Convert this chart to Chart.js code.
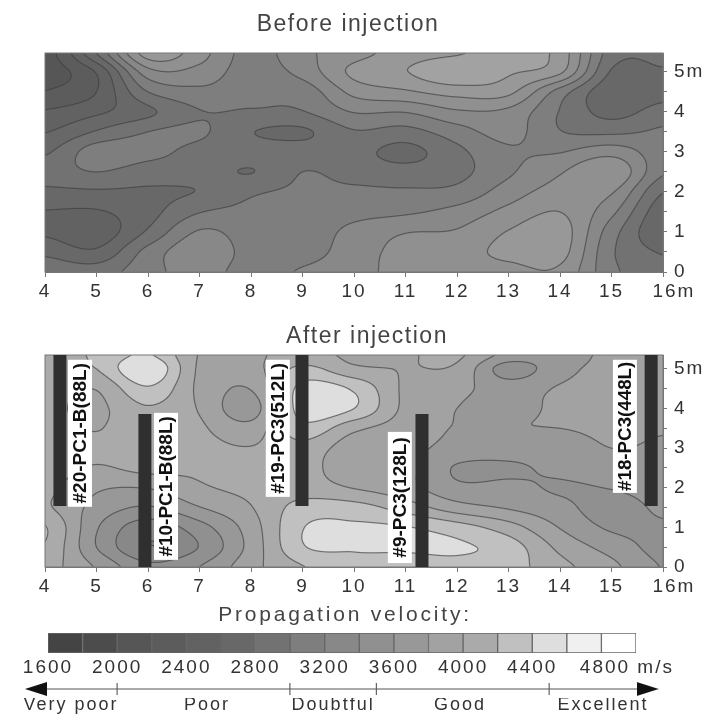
<!DOCTYPE html>
<html>
<head>
<meta charset="utf-8">
<title>Propagation velocity</title>
<script src="https://cdn.jsdelivr.net/npm/chart.js@4"></script>
<style>
    html, body { margin: 0; padding: 0; background: #fff; }
    #page { position: relative; width: 710px; height: 714px; overflow: hidden; filter: blur(0.75px); }
    #page canvas { position: absolute; left: 0; }
    .heading { position: absolute; transform: translate(-50%, -50%); white-space: nowrap; color: #444;
        font-family: "Liberation Sans", sans-serif; }
</style>
</head>
<body>
<div id="page">
    <div class="heading" style="left:348px; top:23px; font-size:23px; letter-spacing:1.5px">Before injection</div>
    <div class="heading" style="left:367px; top:335px; font-size:23px; letter-spacing:1.5px">After injection</div>
    <div class="heading" style="left:345px; top:614px; font-size:21px; letter-spacing:2.8px">Propagation velocity:</div>
    <canvas id="beforeChart" width="710" height="300" style="top:0"></canvas>
    <canvas id="afterChart" width="710" height="290" style="top:305px"></canvas>
    <canvas id="scaleChart" width="710" height="50" style="top:625px"></canvas>
    <canvas id="ratingChart" width="710" height="42" style="top:672px"></canvas>
</div>
<script>
// survey grid, metres along and up the wall
const xNodes = [4, 5, 6, 7, 8, 9, 10, 11, 12, 13, 14, 15, 16];
const yNodesBefore = [0, 0.5, 1, 1.5, 2, 2.5, 3, 3.5, 4, 4.5, 5, 5.47];
const yNodesAfter = [0, 0.5, 1, 1.5, 2, 2.5, 3, 3.5, 4, 4.5, 5, 5.35];

// velocity in m/s, one list per x node
const velocityBefore = [
    [2950, 2750, 2570, 2590, 2750, 2900, 2770, 2590, 2420, 2210, 2100, 2100],
    [2900, 2640, 2480, 2580, 2770, 3000, 3100, 2820, 2560, 2400, 2420, 2800],
    [3130, 3070, 2830, 2730, 2770, 2900, 3060, 3000, 2760, 3000, 3320, 3700],
    [3280, 3340, 3220, 2990, 2810, 2890, 2940, 3030, 2990, 3150, 3330, 3480],
    [3120, 3130, 3100, 3050, 2970, 2795, 2900, 2810, 2980, 3060, 3100, 3120],
    [3220, 3120, 3080, 3060, 3030, 3000, 2900, 2770, 2990, 3080, 3270, 3350],
    [3320, 3300, 3260, 3130, 3040, 2930, 2870, 2980, 3210, 3460, 3650, 3520],
    [3480, 3470, 3390, 3170, 3030, 2880, 2740, 2930, 3210, 3570, 3790, 3700],
    [3500, 3520, 3420, 3270, 3060, 2940, 2950, 3110, 3370, 3680, 3980, 3780],
    [3540, 3650, 3610, 3460, 3300, 3170, 3170, 3270, 3350, 3650, 3830, 3900],
    [3560, 3680, 3700, 3600, 3480, 3380, 3190, 3010, 2990, 3110, 3640, 3720],
    [3050, 3030, 3090, 3250, 3420, 3580, 3320, 2960, 2730, 2650, 2780, 2900],
    [2880, 2780, 2620, 2660, 2810, 3030, 3080, 3030, 2890, 2720, 2780, 2850]
];
const velocityAfter = [
    [4080, 4180, 4210, 4030, 4050, 4100, 4080, 4080, 4050, 4080, 4100, 4120],
    [3780, 3600, 3620, 3730, 3830, 3980, 4060, 3990, 3960, 4010, 4200, 4230],
    [3450, 3210, 3290, 3580, 3810, 4060, 4100, 4150, 4180, 4370, 4590, 4420],
    [3600, 3410, 3520, 3790, 3970, 4030, 4060, 4030, 3985, 3960, 3970, 3990],
    [3930, 3870, 3900, 3990, 4050, 4070, 4010, 3880, 3700, 3810, 3930, 3960],
    [4190, 4380, 4390, 4280, 4100, 4080, 4130, 4330, 4500, 4470, 4250, 4100],
    [4320, 4420, 4430, 4280, 3990, 3860, 3880, 4050, 4400, 4370, 4050, 3950],
    [4290, 4430, 4410, 4110, 3870, 3850, 3850, 3900, 3950, 3960, 3990, 3980],
    [4330, 4430, 4290, 3890, 3650, 3580, 3740, 3790, 3800, 3850, 3960, 4030],
    [4280, 4300, 4090, 3780, 3650, 3570, 3700, 3795, 3750, 3720, 3500, 3730],
    [4060, 3950, 3790, 3660, 3580, 3650, 3720, 3800, 3830, 3815, 3740, 3720],
    [3850, 3720, 3570, 3510, 3610, 3730, 3800, 3830, 3860, 3860, 3850, 3840],
    [3590, 3530, 3570, 3640, 3700, 3750, 3780, 3810, 3830, 3830, 3830, 3830]
];

// injection holes in the lower panel
const wellNames = ['#20-PC1-B(88L)', '#10-PC1-B(88L)', '#19-PC3(512L)', '#9-PC3(128L)', '#18-PC3(448L)'];
const wellX = [4.29, 5.94, 8.99, 11.32, 15.77];
const wellTop = [5.35, 3.86, 5.35, 3.86, 5.35];
const wellBottom = [1.54, 0, 1.54, 0, 1.54];
const wellLabelX = [4.68, 6.35, 8.52, 10.89, 15.26];
const wellLabelTop = [5.23, 3.89, 5.23, 3.41, 5.23];
const wellLabelBottom = [1.52, 0.18, 1.77, 0.10, 1.87];

// colour scale
const bandEdges = [1600, 1800, 2000, 2200, 2400, 2600, 2800, 3000, 3200, 3400, 3600, 3800, 4000, 4200, 4400, 4600, 4800, 5000];
const bandGreys = [0x44, 0x4c, 0x56, 0x5c, 0x62, 0x68, 0x72, 0x7e, 0x88, 0x90, 0x98, 0xa2, 0xaa, 0xc0, 0xde, 0xf0, 0xff];

// rating arrow under the scale
const ratingNames = ['Very poor', 'Poor', 'Doubtful', 'Good', 'Excellent'];
const ratingCentres = [1733, 2520, 3250, 3984, 4812];
const ratingBreaks = [2000, 3000, 3500, 4500];
const arrowEnds = [1530, 5070];

const textFont = { family: '"Liberation Sans", sans-serif', size: 19 };
const textColor = '#333';

Chart.defaults.animation = false;
Chart.defaults.responsive = false;
Chart.defaults.devicePixelRatio = 1;
Chart.defaults.plugins.legend.display = false;
Chart.defaults.plugins.tooltip.enabled = false;

// the source text is a little stretched, so space the letters out
const spacedText = {
    id: 'spacedText',
    beforeLayout(chart) { chart.ctx.letterSpacing = '2px'; },
    beforeDraw(chart) { chart.ctx.letterSpacing = '2px'; }
};

function bracket(nodes, v) {
    let i = 0;
    while (i < nodes.length - 2 && v > nodes[i + 1]) i++;
    const t = Math.min(1, Math.max(0, (v - nodes[i]) / (nodes[i + 1] - nodes[i])));
    return [i, t];
}

function cubic(a, b, c, d, t) {
    return b + 0.5 * t * (c - a + t * (2 * a - 5 * b + 4 * c - d + t * (3 * (b - c) + d - a)));
}

// smooth surface through the read values, the source contours are rounded too
function sample(grid, yNodes, x, y) {
    const [i, s] = bracket(xNodes, x);
    const [j, t] = bracket(yNodes, y);
    const last = yNodes.length - 1;
    const column = col => cubic(col[Math.max(0, j - 1)], col[j], col[j + 1], col[Math.min(last, j + 2)], t);
    const at = k => column(grid[Math.max(0, Math.min(grid.length - 1, k))]);
    return cubic(at(i - 1), at(i), at(i + 1), at(i + 2), s);
}

// filled bands and contour lines, every pixel read back through the chart's scales
const contourMap = {
    id: 'contourMap',
    beforeDatasetsDraw(chart, args, opts) {
        const area = chart.chartArea;
        const w = Math.round(area.right - area.left);
        const h = Math.round(area.bottom - area.top);
        const sx = chart.scales.x;
        const sy = chart.scales.y;
        const values = new Float32Array((w + 2) * (h + 2));
        for (let py = 0; py < h + 2; py++) {
            const dataY = sy.getValueForPixel(area.top + py - 0.5);
            for (let px = 0; px < w + 2; px++) {
                values[py * (w + 2) + px] = sample(opts.grid, opts.yNodes, sx.getValueForPixel(area.left + px - 0.5), dataY);
            }
        }
        const off = document.createElement('canvas');
        off.width = w;
        off.height = h;
        const offCtx = off.getContext('2d');
        const img = offCtx.createImageData(w, h);
        for (let py = 0; py < h; py++) {
            for (let px = 0; px < w; px++) {
                const at = (py + 1) * (w + 2) + px + 1;
                const v = values[at];
                const band = Math.max(0, Math.min(bandGreys.length - 1, Math.floor((v - bandEdges[0]) / 200)));
                const gx = (values[at + 1] - values[at - 1]) / 2;
                const gy = (values[at + w + 2] - values[at - w - 2]) / 2;
                const grad = Math.hypot(gx, gy) || 1;
                const level = Math.round(v / 200) * 200;
                const dist = Math.abs(v - level) / grad;
                const alpha = Math.max(0, Math.min(1, 1.1 - dist)) * 0.65;
                const grey = bandGreys[band] * (1 - alpha) + 60 * alpha;
                const o = (py * w + px) * 4;
                img.data[o] = img.data[o + 1] = img.data[o + 2] = grey;
                img.data[o + 3] = 255;
            }
        }
        offCtx.putImageData(img, 0, 0);
        chart.ctx.drawImage(off, area.left, area.top);
        chart.ctx.strokeStyle = '#777';
        chart.ctx.lineWidth = 1;
        chart.ctx.strokeRect(area.left, area.top, w, h);
    }
};

// white plates with the hole names, written up the page
const wellLabels = {
    id: 'wellLabels',
    afterDatasetsDraw(chart) {
        const ctx = chart.ctx;
        const sx = chart.scales.x;
        const sy = chart.scales.y;
        wellNames.forEach((name, i) => {
            const x = sx.getPixelForValue(wellLabelX[i]);
            const top = sy.getPixelForValue(wellLabelTop[i]);
            const bottom = sy.getPixelForValue(wellLabelBottom[i]);
            ctx.save();
            ctx.letterSpacing = '0px';
            ctx.translate(x, (top + bottom) / 2);
            ctx.rotate(-Math.PI / 2);
            ctx.fillStyle = '#fff';
            ctx.fillRect((top - bottom) / 2, -12, bottom - top, 24);
            ctx.fillStyle = '#111';
            ctx.font = 'bold 19px "Liberation Sans", sans-serif';
            ctx.textAlign = 'center';
            ctx.textBaseline = 'middle';
            ctx.fillText(name, 0, 1, bottom - top - 4);
            ctx.restore();
        });
    }
};

function panelOptions(grid, yNodes, yMax, padTop) {
    return {
        layout: { autoPadding: false, padding: { left: 45, top: padTop } },
        scales: {
            x: {
                type: 'linear', min: 4, max: 16,
                afterFit(scale) { scale.height = 28; },
                grid: { drawOnChartArea: false, tickLength: 5, tickColor: '#777' },
                border: { color: '#777' },
                ticks: {
                    stepSize: 1, padding: 3, autoSkip: false, maxRotation: 0, font: textFont, color: textColor,
                    callback: v => (v === 16 ? '   16m' : v)
                }
            },
            y: {
                type: 'linear', position: 'right', min: 0, max: yMax,
                afterFit(scale) { scale.width = 47; },
                grid: { drawOnChartArea: false, tickLength: 4, tickColor: '#777' },
                border: { color: '#777' },
                ticks: {
                    stepSize: 0.5, padding: 7, autoSkip: false, includeBounds: false, font: textFont, color: textColor,
                    callback: v => (Number.isInteger(v) ? (v === 5 ? '5m' : v) : '')
                }
            }
        },
        plugins: { contourMap: { grid, yNodes } }
    };
}

new Chart(document.getElementById('beforeChart'), {
    type: 'scatter',
    data: { datasets: [] },
    options: panelOptions(velocityBefore, yNodesBefore, 5.47, 53),
    plugins: [spacedText, contourMap]
});

new Chart(document.getElementById('afterChart'), {
    type: 'scatter',
    data: {
        datasets: wellNames.map((name, i) => ({
            label: name,
            data: [{ x: wellX[i], y: wellBottom[i] }, { x: wellX[i], y: wellTop[i] }],
            showLine: true,
            borderColor: '#2f2f2f',
            borderWidth: 13,
            borderCapStyle: 'butt',
            pointRadius: 0
        }))
    },
    options: panelOptions(velocityAfter, yNodesAfter, 5.35, 50),
    plugins: [spacedText, contourMap, wellLabels]
});

new Chart(document.getElementById('scaleChart'), {
    type: 'bar',
    data: {
        labels: ['m/s'],
        datasets: bandGreys.map((grey, i) => ({
            data: [[bandEdges[i], bandEdges[i + 1]]],
            backgroundColor: `rgb(${grey},${grey},${grey})`,
            borderColor: '#666',
            borderWidth: 1,
            borderSkipped: false,
            grouped: false
        }))
    },
    options: {
        indexAxis: 'y',
        layout: { autoPadding: false, padding: { left: 48, right: 74, top: 8 } },
        datasets: { bar: { barPercentage: 1, categoryPercentage: 1 } },
        scales: {
            y: { display: false },
            x: {
                type: 'linear', min: 1600, max: 5000,
                afterFit(scale) { scale.height = 22; },
                grid: { display: false, drawTicks: false },
                border: { display: false },
                ticks: {
                    stepSize: 400, padding: 3, autoSkip: false, maxRotation: 0, includeBounds: false, font: textFont, color: textColor,
                    callback: v => (v === 4800 ? '       4800 m/s' : v)
                }
            }
        }
    },
    plugins: [spacedText]
});

function arrowHead(direction) {
    const c = document.createElement('canvas');
    c.width = 22;
    c.height = 14;
    const g = c.getContext('2d');
    g.fillStyle = '#111';
    g.beginPath();
    g.moveTo(direction < 0 ? 0 : 22, 7);
    g.lineTo(direction < 0 ? 22 : 0, 0);
    g.lineTo(direction < 0 ? 22 : 0, 14);
    g.fill();
    return c;
}

new Chart(document.getElementById('ratingChart'), {
    type: 'scatter',
    data: {
        datasets: [
            {
                data: arrowEnds.map(x => ({ x, y: 0 })),
                showLine: true,
                borderColor: '#555',
                borderWidth: 1,
                pointStyle: [arrowHead(-1), arrowHead(1)],
                clip: false
            },
            {
                data: ratingBreaks.map(x => ({ x, y: 0 })),
                pointStyle: 'line',
                rotation: 90,
                radius: 6,
                borderColor: '#444',
                borderWidth: 1
            }
        ]
    },
    options: {
        layout: { autoPadding: false, padding: { left: 25, right: 52, top: 8 } },
        scales: {
            y: { display: false, min: -1, max: 1 },
            x: {
                type: 'linear', min: 1467, max: 5130,
                afterFit(scale) { scale.height = 16; },
                afterBuildTicks(scale) { scale.ticks = ratingCentres.map(value => ({ value })); },
                grid: { display: false, drawTicks: false },
                border: { display: false },
                ticks: {
                    padding: -4, autoSkip: false, maxRotation: 0, font: { family: textFont.family, size: 18 }, color: textColor,
                    callback: (v, i) => ratingNames[i]
                }
            }
        }
    },
    plugins: [spacedText]
});
</script>
</body>
</html>
